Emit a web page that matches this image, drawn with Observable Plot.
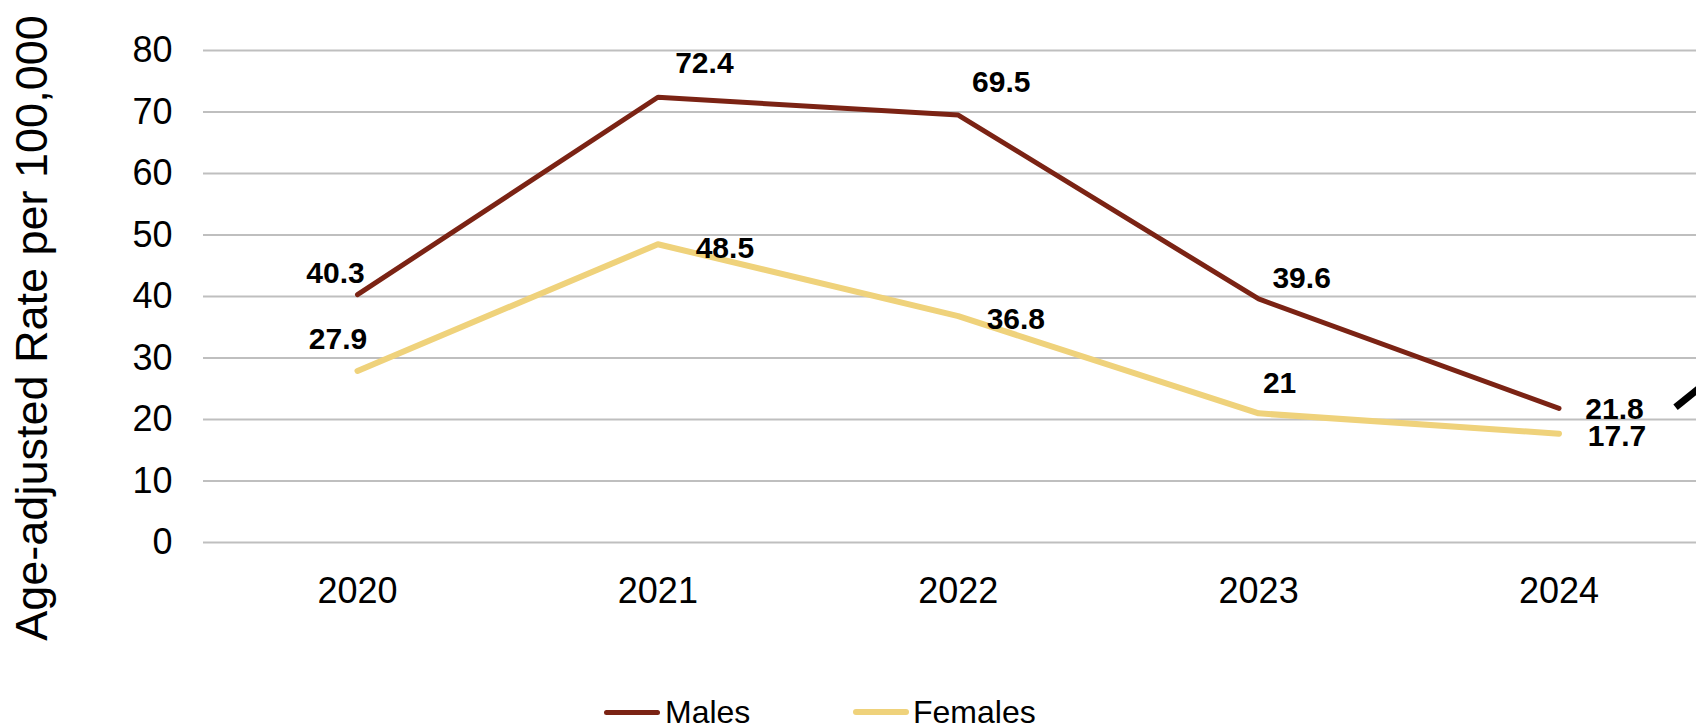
<!DOCTYPE html>
<html>
<head>
<meta charset="utf-8">
<script src="https://cdn.jsdelivr.net/npm/d3@7"></script>
<script src="https://cdn.jsdelivr.net/npm/@observablehq/plot@0.6"></script>
<style>
  body { margin: 0; background: #fff; font-family: "Liberation Sans", Arial, sans-serif; }
  #wrap { position: relative; width: 1696px; height: 725px; overflow: hidden; }
  .sw { position: absolute; border-radius: 3px; }
  .lt { position: absolute; font-size: 32px; line-height: 32px; color: #000; white-space: nowrap; }
</style>
</head>
<body>
<div id="wrap"></div>
<script>
// ---- data ----
const years = [2020, 2021, 2022, 2023, 2024];
const males = [40.3, 72.4, 69.5, 39.6, 21.8];
const females = [27.9, 48.5, 36.8, 21, 17.7];
const seriesNames = ["Males", "Females"];
const yTicks = [0, 10, 20, 30, 40, 50, 60, 70, 80];
const yLabel = "Age-adjusted Rate per 100,000";
// partial annotation stroke visible at right edge
const arrowX = [2024.388, 2024.48];
const arrowY = [22.0, 25.6];

// ---- layout / style ----
const colors = { Males: "#7b2314", Females: "#efd27b" };
const widths = { Males: 5, Females: 6 };
const labelOffsets = {
  Males:   [[-22, -21.5], [46.5, -33.5], [43, -33], [43, -21], [55.5, 1]],
  Females: [[-19.5, -32], [67, 4], [57.6, 3.5], [21, -30], [58, 3]]
};

const seriesValues = { Males: males, Females: females };
const rows = seriesNames.flatMap(s => years.map((yr, i) => ({ series: s, year: yr, value: seriesValues[s][i], i })));

const marks = [
  Plot.gridY({ ticks: yTicks, stroke: "#bfbfbf", strokeOpacity: 1, strokeWidth: 2 }),
  Plot.axisY({ ticks: yTicks, tickSize: 0, tickPadding: 31, label: null, fill: "#000", fontSize: 36 }),
  Plot.axisX({ ticks: years, tickFormat: d => String(d), tickSize: 0, tickPadding: 35, label: null, fill: "#000", fontSize: 36 }),
  Plot.text([yLabel], { frameAnchor: "left", text: d => d, rotate: -90, dx: -171, dy: 31.5, fontSize: 45, fill: "#000", textAnchor: "middle", lineAnchor: "middle" })
];
for (const s of seriesNames) {
  marks.push(Plot.line(rows.filter(r => r.series === s), {
    x: "year", y: "value", stroke: colors[s], strokeWidth: widths[s],
    strokeLinecap: "round", strokeLinejoin: s === "Males" ? "miter" : "round"
  }));
}
marks.push(Plot.line(arrowX.map((x, i) => ({ x, y: arrowY[i] })), { x: "x", y: "y", stroke: "#000", strokeWidth: 7, strokeLinecap: "butt" }));
for (const r of rows) {
  const [dx, dy] = labelOffsets[r.series][r.i];
  marks.push(Plot.text([r], {
    x: "year", y: "value", text: d => String(d.value), dx, dy,
    fontSize: 30, fontWeight: "bold", fill: "#000", textAnchor: "middle", lineAnchor: "middle"
  }));
}

const chart = Plot.plot({
  width: 1696,
  height: 680,
  marginLeft: 203,
  marginRight: 0,
  marginTop: 50,
  marginBottom: 138,
  style: { fontFamily: "'Liberation Sans', Arial, sans-serif", fontSize: "36px", background: "#fff", color: "#000", overflow: "hidden" },
  x: { type: "linear", domain: [2020, 2024], range: [357, 1558.5] },
  y: { domain: [0, 80] },
  marks
});

const wrap = document.getElementById("wrap");
wrap.appendChild(chart);

// legend (HTML, below the SVG)
const legendPos = { Males: [604, 665], Females: [853, 913] };
for (const s of seriesNames) {
  const sw = document.createElement("div");
  sw.className = "sw";
  sw.style.left = legendPos[s][0] + "px";
  sw.style.top = (712 - widths[s] / 2) + "px";
  sw.style.width = "56px";
  sw.style.height = widths[s] + "px";
  sw.style.background = colors[s];
  wrap.appendChild(sw);
  const t = document.createElement("div");
  t.className = "lt";
  t.style.left = legendPos[s][1] + "px";
  t.style.top = "696px";
  t.textContent = s;
  wrap.appendChild(t);
}
</script>
</body>
</html>
